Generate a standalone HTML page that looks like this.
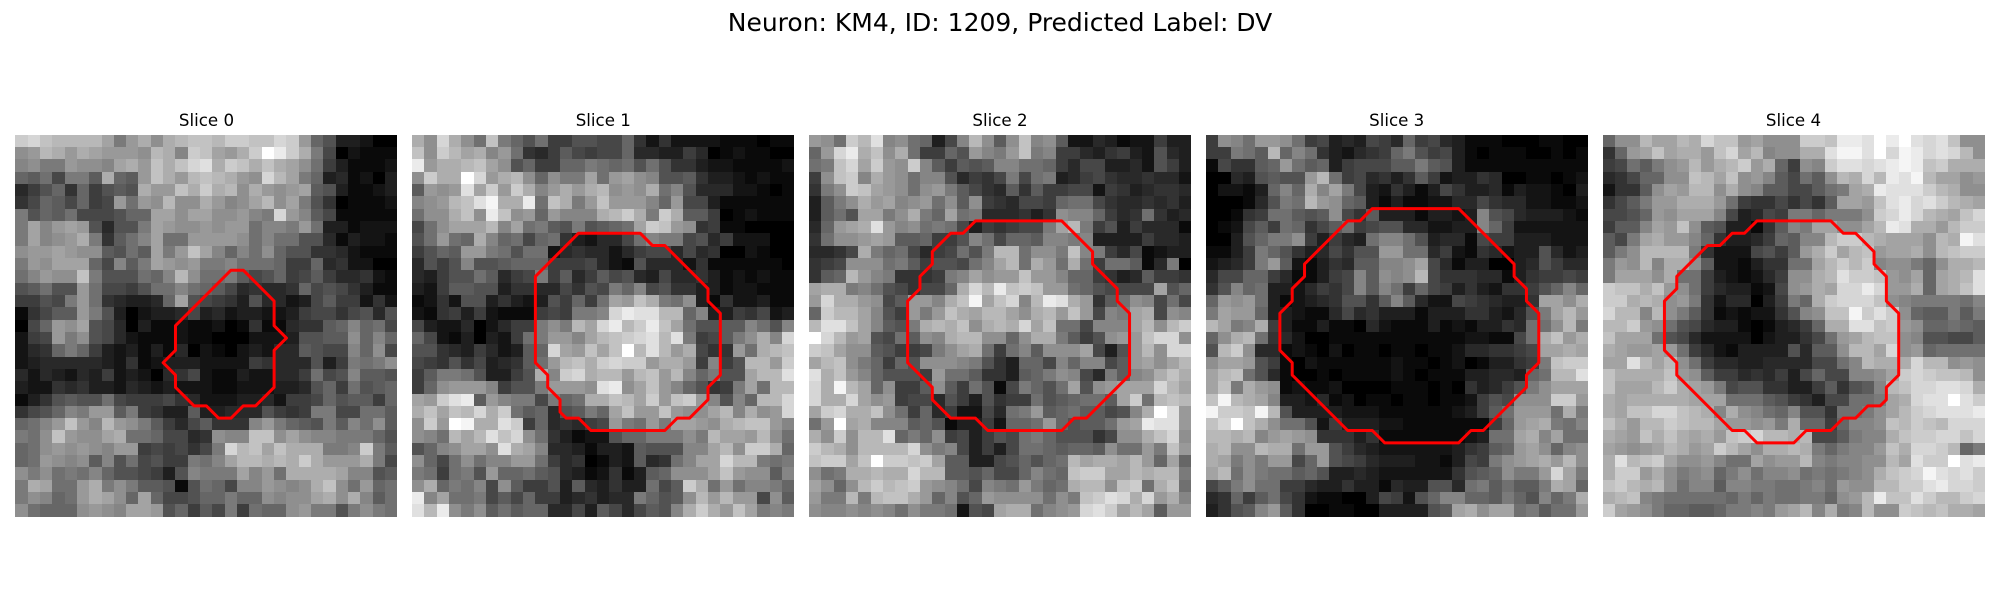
<!DOCTYPE html>
<html lang="en">
<head>
<meta charset="utf-8">
<title>Neuron: KM4, ID: 1209, Predicted Label: DV</title>
<style>
html,body{margin:0;padding:0;background:#fff;width:2000px;height:600px;overflow:hidden}
svg{display:block}
text{font-family:"DejaVu Sans","Liberation Sans",sans-serif;fill:#000;text-anchor:middle}
</style>
</head>
<body>
<svg id="figure" width="2000" height="600" viewBox="0 0 2000 600" xmlns="http://www.w3.org/2000/svg">
<text x="1000" y="31" font-size="25">Neuron: KM4, ID: 1209, Predicted Label: DV</text>
<g id="panel-0"><text x="206.5" y="126" font-size="16.67">Slice 0</text></g>
<g id="panel-1"><text x="603.3" y="126" font-size="16.67">Slice 1</text></g>
<g id="panel-2"><text x="1000" y="126" font-size="16.67">Slice 2</text></g>
<g id="panel-3"><text x="1396.7" y="126" font-size="16.67">Slice 3</text></g>
<g id="panel-4"><text x="1793.5" y="126" font-size="16.67">Slice 4</text></g>
</svg>
<script>
const slice0Pixels = [
[20,21,19,18,18,18,18,16,12,15,17,14,17,18,19,19,18,20,20,19,19,21,20,15,10,8,3,3,2,0,0],
[14,15,18,17,15,17,16,15,15,15,14,18,17,13,20,19,16,15,17,20,25,23,20,17,12,7,0,2,1,1,1],
[13,14,12,12,15,14,14,13,16,17,15,19,17,19,21,22,17,20,19,17,19,17,16,14,11,6,3,1,1,1,2],
[10,9,11,7,12,12,9,17,10,9,15,19,17,15,18,19,18,17,15,14,21,18,16,12,10,3,4,1,2,0,3],
[4,6,8,10,5,10,6,8,9,8,17,15,15,19,17,20,17,18,14,17,15,14,15,16,9,8,3,1,1,2,3],
[5,7,10,9,7,10,6,7,15,11,15,14,18,14,14,17,15,13,14,16,18,14,16,12,8,5,0,1,1,1,2],
[12,8,10,9,11,7,7,7,8,10,10,16,16,14,16,16,14,14,15,13,12,21,15,13,9,7,1,1,1,1,1],
[12,16,13,15,16,15,8,4,8,8,12,16,15,14,14,15,14,15,15,11,13,13,12,15,11,3,3,1,2,2,2],
[12,16,13,14,15,17,12,5,9,11,13,16,11,11,15,15,15,15,14,11,13,11,11,8,8,4,1,3,2,2,1],
[14,15,15,16,15,14,14,9,8,11,9,16,12,15,19,16,13,10,13,11,14,10,8,8,5,5,4,2,1,1,1],
[12,15,14,16,16,16,10,7,13,9,12,16,15,14,15,12,12,13,11,11,11,10,6,6,10,4,5,2,2,0,0],
[11,13,15,14,14,19,12,8,8,8,11,10,13,18,14,11,11,12,9,7,8,10,6,7,9,6,4,4,5,2,1],
[8,9,11,8,8,15,11,7,7,6,8,11,11,13,11,10,9,7,4,5,4,4,5,10,7,8,7,5,3,1,1],
[6,6,8,7,12,15,11,5,4,3,3,4,10,16,8,7,6,5,3,8,4,4,2,3,7,9,6,6,2,5,2],
[1,5,7,9,9,15,12,8,3,0,2,3,3,4,7,3,4,2,3,3,2,2,3,6,7,7,5,7,8,4,8],
[0,7,10,15,14,16,8,7,4,0,3,1,1,2,1,1,2,0,1,5,1,1,4,5,5,9,10,13,10,11,7],
[2,6,7,15,12,14,8,7,4,2,1,1,1,2,1,1,0,0,0,2,2,2,3,8,8,9,9,14,10,13,10],
[2,4,5,10,12,10,6,3,2,3,1,3,1,4,0,2,1,0,2,3,2,4,4,9,8,7,7,13,10,14,7],
[2,3,4,4,4,4,4,3,2,5,1,2,3,3,3,2,2,2,2,6,5,4,4,4,8,3,6,12,11,12,14],
[4,2,4,3,2,4,3,6,2,3,2,0,4,5,7,2,1,1,3,2,2,4,4,6,11,7,8,13,9,9,8],
[3,2,2,5,4,5,3,3,2,4,3,2,3,2,2,2,1,1,2,2,2,3,3,4,8,10,6,11,8,9,10],
[1,3,5,8,9,8,8,11,7,6,6,6,7,5,4,2,2,2,3,3,4,2,6,6,7,10,8,9,9,6,10],
[5,7,8,10,13,12,15,15,9,12,6,5,3,3,9,3,3,4,4,4,8,6,5,6,12,12,7,7,11,11,9],
[10,11,13,15,19,15,13,18,15,14,12,9,6,4,7,9,5,5,5,13,15,12,10,9,8,12,9,13,11,14,9],
[12,11,14,19,15,14,14,16,17,11,11,10,7,7,4,5,14,13,13,19,19,14,16,14,13,13,12,12,12,10,8],
[10,11,14,15,14,15,14,13,15,15,6,7,6,7,5,7,12,21,18,19,16,19,17,17,17,12,12,13,20,12,9],
[10,11,15,14,13,14,9,13,8,11,7,8,6,6,12,11,13,16,18,18,17,18,17,20,17,15,15,15,17,12,7],
[14,12,14,11,12,11,13,10,8,8,7,6,3,8,13,12,12,12,16,13,15,11,17,17,17,17,16,13,13,8,9],
[12,17,16,11,11,15,17,12,14,12,9,9,8,1,8,11,10,7,13,13,15,14,13,14,17,19,14,11,15,10,11],
[12,14,13,10,11,15,17,16,14,10,16,10,7,7,8,10,10,12,10,10,14,13,14,14,16,17,14,17,13,9,11],
[14,11,10,10,10,14,15,14,13,16,16,15,8,10,6,9,7,12,6,11,10,10,14,15,12,12,8,12,14,12,11]
];
const slice1Pixels = [
[17,14,21,17,14,11,19,12,10,8,11,6,6,8,8,7,7,10,5,2,5,2,2,2,2,1,1,1,0,1,1],
[19,14,20,18,16,17,13,15,11,5,4,6,9,7,6,7,7,10,4,4,3,3,6,4,0,1,2,1,1,0,0],
[23,15,17,17,18,19,16,14,8,10,6,6,10,10,12,11,10,11,8,11,8,5,5,3,2,2,1,1,1,1,2],
[14,20,17,17,25,21,15,17,18,14,10,14,12,12,16,11,15,16,14,13,8,8,9,5,3,3,2,1,2,1,1],
[9,15,14,15,22,16,20,15,20,17,13,15,17,15,17,18,14,15,14,17,11,13,8,4,4,4,2,2,1,0,1],
[13,14,15,18,19,22,24,17,17,23,11,19,17,12,15,19,15,15,15,13,10,15,7,7,3,1,1,1,1,1,1],
[11,14,14,17,19,14,23,19,14,15,10,15,13,13,13,17,18,20,17,12,20,17,9,9,6,0,1,2,1,1,1],
[7,11,14,16,16,16,18,13,16,11,12,9,8,12,8,9,10,11,16,20,19,15,14,5,6,1,1,0,0,0,0],
[8,11,15,11,10,17,13,10,11,7,10,11,5,3,2,4,4,7,11,13,12,12,7,8,4,6,2,2,2,0,0],
[6,8,10,9,15,15,12,11,8,11,11,2,4,5,4,4,2,4,6,7,7,4,7,4,5,0,0,2,1,0,0],
[4,8,6,8,13,8,8,9,10,10,10,6,6,6,7,4,2,1,8,4,4,4,2,5,1,1,1,1,1,1,0],
[4,3,6,8,8,11,9,4,6,7,12,6,9,4,6,9,7,8,4,3,7,4,4,5,3,1,2,1,2,1,1],
[3,2,6,9,9,8,8,3,5,5,4,4,7,5,8,7,12,10,13,7,8,5,5,3,3,1,2,2,1,1,1],
[1,2,5,2,8,8,3,5,3,2,3,8,6,10,6,11,16,15,19,17,12,11,14,3,1,5,2,2,3,1,1],
[2,1,5,6,3,6,2,1,1,1,6,7,6,12,12,13,21,23,22,22,18,18,10,13,3,3,6,5,7,2,3],
[7,3,2,2,4,0,2,4,6,6,12,14,12,18,16,21,23,18,20,23,19,16,11,8,8,9,9,13,11,8,13],
[10,7,2,1,3,0,3,2,6,11,12,15,15,13,16,18,19,20,21,22,18,22,12,6,7,9,12,14,17,13,21],
[8,8,5,4,3,6,4,2,3,9,10,21,16,15,19,16,19,25,18,22,18,15,17,7,5,5,15,11,17,18,19],
[7,6,5,8,5,7,3,4,5,9,11,15,18,19,17,20,21,20,20,15,17,17,15,6,13,6,8,18,18,15,20],
[6,9,12,12,11,8,3,3,6,8,17,13,20,21,17,18,18,15,18,19,15,18,13,10,12,8,8,16,18,18,22],
[6,10,14,15,15,15,13,6,8,8,12,15,15,15,14,22,23,14,16,19,15,13,10,8,5,6,12,16,11,18,18],
[16,15,20,22,23,9,15,13,12,12,7,12,10,11,17,17,19,18,16,20,15,19,20,15,13,8,13,10,18,18,21],
[17,19,16,19,18,21,17,20,11,9,10,4,8,9,12,10,16,19,15,15,19,15,14,14,16,18,13,17,14,15,21],
[14,20,15,25,24,17,17,22,20,6,10,4,5,4,6,7,15,12,11,15,12,16,16,15,14,17,18,19,19,15,13],
[14,13,11,18,16,18,22,19,21,14,11,5,3,1,2,2,8,10,10,12,12,12,14,12,18,16,16,15,18,14,11],
[8,10,13,14,16,16,14,22,17,16,13,4,4,3,1,3,3,2,9,8,8,8,13,13,16,18,14,20,20,17,10],
[14,10,7,11,14,11,13,13,15,15,11,6,4,5,0,1,3,2,9,4,5,11,13,16,16,21,18,18,12,11,12],
[12,11,6,11,12,8,15,10,10,11,9,8,4,3,1,2,5,1,3,9,10,14,14,14,16,19,15,14,14,9,13],
[14,17,10,12,11,13,7,14,9,6,6,8,3,9,4,3,5,3,3,11,7,9,20,17,11,15,11,13,13,12,10],
[23,13,16,11,11,12,7,9,7,10,6,6,3,4,5,3,4,4,12,10,8,9,14,18,15,18,15,15,7,14,9],
[22,18,23,14,12,14,9,11,9,10,10,4,4,7,3,9,7,4,7,9,8,13,17,20,17,15,19,16,12,13,12]
];
const slice2Pixels = [
[15,14,11,20,18,22,13,14,11,10,3,7,13,18,14,9,14,19,13,14,9,2,2,4,3,1,2,2,6,3,3],
[10,15,21,23,17,19,14,17,11,6,6,10,8,15,13,12,15,19,12,13,6,6,4,3,5,6,3,2,8,4,3],
[11,12,19,21,16,20,15,14,20,13,9,6,9,8,9,13,13,11,11,10,6,4,7,7,3,3,4,2,8,6,3],
[6,14,19,20,13,17,15,14,11,13,13,8,4,6,5,7,12,7,11,12,3,4,6,7,5,4,4,5,4,4,2],
[5,12,14,20,19,16,15,14,11,14,15,12,9,7,5,4,9,5,9,6,6,7,7,2,6,5,3,4,5,5,4],
[3,9,12,14,17,15,16,13,14,15,11,14,9,14,6,5,4,7,7,6,10,11,11,7,5,4,4,5,4,5,3],
[3,9,11,8,16,16,12,14,17,12,10,16,11,12,4,4,4,5,3,5,14,13,13,10,6,4,5,11,5,3,4],
[4,10,15,16,17,22,15,13,14,11,12,11,7,3,6,5,6,7,7,12,16,18,12,6,8,3,6,4,4,4,1],
[5,11,14,14,15,16,15,9,9,10,6,6,8,13,11,7,10,10,9,13,13,12,13,3,3,3,3,6,4,4,3],
[4,4,5,7,17,12,10,11,7,4,6,7,11,8,12,18,18,11,14,14,12,19,13,12,6,4,7,1,2,3,3],
[5,6,7,14,14,14,11,12,9,6,8,8,7,11,13,16,18,11,17,15,11,17,11,6,11,11,9,1,4,12,0],
[5,9,10,18,15,13,12,5,5,5,6,12,13,16,14,15,15,19,15,15,13,10,10,6,5,3,4,9,6,6,5],
[16,17,17,12,13,11,8,7,5,7,7,10,17,21,18,23,19,20,19,15,15,11,10,8,7,7,7,7,16,8,10],
[15,21,17,17,15,14,7,9,15,15,13,17,19,24,16,19,21,13,18,23,22,17,15,5,9,11,14,13,7,11,7],
[10,20,18,18,16,13,8,6,15,12,15,19,17,16,18,18,16,14,17,18,15,19,15,7,13,12,16,17,7,14,13],
[18,22,22,19,16,13,9,8,12,17,18,17,19,14,17,18,17,21,16,19,11,11,7,13,13,13,16,18,14,18,20],
[25,21,18,15,16,8,7,11,9,14,13,17,18,18,14,14,10,14,17,17,12,9,6,8,14,15,15,19,21,21,14],
[20,19,16,14,14,9,8,6,6,7,12,14,16,17,11,6,11,13,9,14,14,14,16,7,3,8,15,18,14,21,21],
[16,18,19,14,12,10,6,10,8,14,14,14,13,12,8,5,3,10,10,7,13,10,13,13,7,9,15,16,14,16,18],
[22,17,19,15,13,10,8,8,8,6,15,11,11,9,5,5,3,9,10,12,14,13,7,4,12,9,13,14,17,19,17],
[21,17,24,18,16,10,14,6,6,9,14,9,6,11,8,1,7,12,10,8,11,16,8,14,15,16,16,16,21,18,16],
[21,17,17,21,16,14,15,6,7,7,4,8,6,3,8,5,6,6,11,8,9,10,11,11,9,16,20,11,18,19,18],
[16,20,21,17,17,19,14,11,6,10,4,6,2,2,7,4,11,12,15,9,10,11,9,9,7,8,13,17,25,22,15],
[11,15,25,16,17,13,13,13,9,10,8,1,3,3,6,2,10,10,11,15,10,8,9,9,11,15,16,23,22,22,15],
[17,14,20,14,18,18,22,10,12,10,14,6,7,3,6,8,7,11,12,10,8,8,8,5,7,14,14,17,19,21,14],
[20,18,17,14,18,18,18,18,21,14,12,13,7,3,6,3,7,11,11,10,9,10,10,9,14,11,11,15,12,19,15],
[19,20,20,16,19,25,20,20,19,20,16,9,9,3,3,7,8,10,8,10,11,18,16,17,17,16,18,15,10,16,10],
[14,11,12,17,17,18,17,17,21,18,18,9,9,8,10,7,7,10,13,11,10,19,20,20,16,16,18,17,18,18,12],
[16,14,10,14,18,20,18,19,20,15,14,13,11,7,13,12,11,15,12,10,11,17,18,18,14,19,20,11,17,19,11],
[15,12,12,18,12,18,19,19,17,15,10,13,8,10,15,14,14,14,14,11,14,12,19,20,22,21,17,21,15,17,13],
[14,13,13,14,13,14,13,11,14,12,12,11,2,8,7,16,17,17,11,13,14,15,21,22,20,16,18,16,9,15,15]
];
const slice3Pixels = [
[6,14,13,11,15,15,14,11,6,7,3,4,3,7,6,4,10,6,7,4,3,1,1,1,0,0,0,1,1,0,0],
[6,6,12,11,9,18,10,13,11,5,3,2,4,5,6,10,12,8,6,7,3,1,0,1,1,1,0,0,1,0,1],
[1,7,5,5,9,10,15,11,9,10,3,6,7,7,7,9,9,12,9,8,3,1,1,1,1,1,1,1,1,1,1],
[0,0,4,3,8,9,8,8,15,18,11,6,7,4,5,3,5,9,6,2,3,3,5,4,0,0,1,1,0,1,2],
[0,2,2,1,3,10,13,10,17,13,16,12,7,3,2,5,3,1,3,7,5,3,3,4,1,3,2,2,1,0,3],
[0,0,0,1,4,8,12,11,18,15,14,10,9,3,1,3,1,1,2,2,4,4,7,5,4,4,2,2,1,1,2],
[0,0,1,5,6,11,11,9,8,9,14,7,5,9,3,3,3,1,3,3,2,3,13,8,7,4,3,3,3,2,1],
[0,1,2,7,9,6,11,10,5,7,9,11,6,7,8,8,4,4,2,2,3,3,13,10,6,2,2,2,2,2,2],
[0,0,3,8,10,12,12,14,6,3,6,4,3,11,13,13,11,8,3,4,4,1,7,6,6,3,3,3,2,2,2],
[1,1,3,6,12,10,8,5,3,4,7,5,8,8,15,15,11,11,4,6,2,1,5,4,2,3,3,8,4,2,3],
[2,3,4,6,12,15,9,2,1,3,5,4,9,9,13,13,14,16,7,4,1,3,3,0,0,3,4,8,6,4,4],
[4,7,7,10,10,6,4,1,1,3,6,7,13,9,14,13,14,18,7,5,5,5,4,4,1,3,5,6,6,7,6],
[5,8,13,10,11,3,3,2,4,6,5,7,13,9,13,11,6,10,7,6,3,5,3,2,5,5,6,8,10,13,10],
[10,15,14,15,11,3,1,2,3,4,5,8,8,5,9,13,9,4,2,2,7,6,5,4,3,3,5,16,16,14,17],
[12,16,15,15,10,3,3,2,1,1,4,7,4,5,3,3,3,1,3,3,3,5,5,3,2,4,8,12,16,18,15],
[18,16,12,13,17,6,3,1,1,3,1,1,0,4,2,1,1,1,3,1,2,1,3,3,5,4,11,11,14,18,12],
[10,14,17,18,11,5,4,2,0,0,1,1,1,1,1,1,1,1,1,1,1,2,2,1,1,7,11,17,19,15,17],
[8,18,20,14,4,4,1,2,1,0,2,0,1,1,0,1,1,0,1,1,2,4,4,5,5,6,7,16,16,17,16],
[14,16,16,15,8,6,1,0,2,1,1,1,1,1,1,2,1,1,0,1,2,0,1,3,3,5,6,12,19,20,20],
[16,18,19,11,8,4,1,0,0,1,0,1,1,1,1,2,1,0,1,1,1,3,3,4,4,3,10,11,18,18,22],
[16,19,12,17,15,14,1,2,1,1,2,0,0,0,0,1,1,1,0,1,0,5,3,4,6,8,12,14,16,16,16],
[19,24,18,17,16,13,3,3,2,4,1,2,0,1,1,0,1,1,0,1,1,2,6,8,7,14,14,14,20,20,15],
[24,20,20,19,24,18,8,3,3,3,3,2,2,2,1,1,1,1,1,1,2,3,6,9,11,15,15,15,11,17,12],
[19,21,25,19,17,14,11,11,8,2,6,3,3,3,2,2,1,1,1,1,1,1,1,6,10,15,16,17,12,11,13],
[18,18,17,18,13,15,16,15,14,5,5,5,3,5,1,1,1,1,1,1,1,2,3,11,11,16,17,13,16,11,11],
[17,18,14,14,18,17,17,11,15,15,8,6,4,3,2,2,2,2,2,2,3,5,6,9,10,15,16,14,10,13,14],
[17,16,12,14,12,15,15,7,10,15,8,7,6,4,3,3,3,2,2,1,3,7,6,12,14,15,16,17,15,18,14],
[16,18,11,14,12,11,11,9,10,8,3,3,4,3,2,2,2,2,2,2,5,8,9,10,14,12,12,15,21,16,12],
[7,9,12,14,11,11,6,6,4,3,3,5,3,3,1,4,3,3,8,8,4,11,12,9,11,9,9,12,17,16,10],
[4,5,10,6,9,11,7,5,2,1,1,0,0,3,7,6,2,8,10,13,13,10,10,9,12,10,8,13,10,12,17],
[3,5,8,9,13,15,9,5,0,0,1,1,0,0,3,3,3,3,8,9,16,17,14,16,16,11,12,9,11,11,15]
];
const slice4Pixels = [
[10,14,14,18,16,16,18,17,21,19,19,15,16,14,14,14,20,20,19,23,23,22,25,23,25,22,21,22,19,14,14],
[5,10,15,16,19,16,17,17,15,19,21,16,18,13,14,14,17,17,22,24,24,22,25,21,24,23,21,22,21,18,14],
[6,7,11,9,12,14,15,18,15,17,18,20,15,17,10,6,14,13,20,22,22,21,22,23,24,23,19,20,17,17,17],
[4,5,7,10,10,14,14,19,18,16,19,14,15,13,9,7,11,9,14,18,17,21,18,23,22,24,18,16,16,14,15],
[2,5,5,9,14,16,15,18,18,14,17,14,13,9,9,7,7,9,11,12,16,17,23,22,22,22,20,18,17,14,14],
[5,7,9,12,15,15,17,17,17,15,11,6,5,5,7,5,7,5,9,16,16,15,19,22,23,21,22,20,18,17,16],
[7,7,8,10,15,14,16,16,16,13,7,3,4,7,6,12,12,10,12,12,12,14,20,21,23,21,18,17,16,19,21],
[6,9,9,13,16,15,19,14,9,8,3,3,1,5,9,13,12,16,16,14,14,16,18,23,22,17,17,15,18,20,20],
[9,7,12,16,17,15,15,13,10,5,3,3,4,6,10,9,13,13,18,20,20,18,17,16,16,16,14,18,17,24,22],
[9,12,14,18,18,18,18,12,5,2,2,2,7,8,6,9,15,17,20,16,18,19,15,16,16,17,14,18,19,20,20],
[12,15,14,18,13,17,17,14,9,2,2,1,3,5,5,11,11,16,18,20,18,20,13,14,14,12,10,14,17,17,18],
[12,16,16,16,14,17,11,11,6,3,2,1,2,4,6,14,14,17,18,22,20,20,19,15,14,16,10,16,17,18,22],
[20,19,19,17,19,15,14,11,6,4,3,3,1,2,7,14,15,17,16,21,21,23,21,15,15,17,10,16,17,19,22],
[20,20,17,18,17,14,15,12,5,2,4,4,0,3,6,12,10,17,20,21,21,21,19,14,13,12,12,12,12,11,13],
[21,18,18,13,18,14,12,9,5,1,2,1,2,2,5,8,13,14,19,19,24,20,22,20,14,10,9,9,12,9,12],
[18,18,20,15,14,11,8,7,4,3,3,1,0,1,3,4,6,10,17,17,22,22,19,20,15,14,10,10,11,10,9],
[19,16,16,16,11,8,7,4,2,2,2,2,0,2,3,3,5,7,11,15,16,18,19,19,14,13,8,8,7,7,9],
[17,16,15,15,16,15,11,6,4,2,1,3,3,3,3,8,4,9,9,14,18,18,16,21,14,15,10,11,11,11,11],
[16,16,22,18,16,18,14,11,6,4,4,3,3,4,4,4,4,7,7,11,13,18,17,17,17,21,18,18,14,15,14],
[19,17,17,17,17,19,15,14,9,6,6,4,5,4,6,3,7,10,7,7,13,13,14,16,20,21,20,19,19,18,14],
[19,16,16,16,18,20,17,16,15,12,7,8,8,5,5,3,3,6,9,5,8,9,13,18,19,21,21,22,22,21,17],
[17,16,17,17,17,17,17,16,16,16,11,11,11,9,8,6,5,3,7,7,11,11,12,16,17,21,22,22,25,22,20],
[17,16,19,19,21,21,19,18,17,13,17,14,13,11,10,13,8,8,5,11,11,12,14,16,18,20,21,22,22,22,23],
[19,17,15,18,18,20,19,18,18,16,15,15,14,15,12,17,10,10,6,10,13,13,14,19,18,20,19,18,21,21,21],
[17,16,15,19,17,19,17,16,17,15,19,20,21,18,18,17,18,7,7,9,12,13,13,17,19,20,20,21,21,19,21],
[16,15,14,15,16,18,17,15,16,20,18,16,14,17,17,18,17,12,10,12,13,13,15,19,17,21,21,20,18,10,12],
[17,22,18,19,20,16,14,14,15,13,11,11,16,14,15,15,18,13,12,13,13,14,14,18,16,22,20,20,25,22,23],
[17,20,20,15,17,14,12,13,14,10,12,14,11,13,13,14,11,12,11,12,13,14,17,19,20,21,24,22,21,22,20],
[19,20,18,17,18,14,11,13,13,9,13,13,12,12,11,11,12,13,11,15,14,14,18,18,20,20,22,23,21,21,20],
[17,18,19,13,12,11,11,11,11,11,10,12,10,12,11,11,12,12,10,14,15,18,23,19,19,22,20,18,18,20,21],
[20,16,15,14,12,10,10,9,9,10,12,12,13,12,15,16,18,13,17,12,13,18,14,14,20,19,18,19,17,17,16]
];
const slice0Contour = [[17.5,11],[18.5,11],[21,13.5],[21,15.5],[22,16.5],[21,17.5],[21,20.5],[19.5,22],[18.5,22],[17.5,23],[16.5,23],[15.5,22],[14.5,22],[13,20.5],[13,19.5],[12,18.5],[13,17.5],[13,15.5]];
const slice1Contour = [[13.5,8],[18.5,8],[19.5,9],[20.5,9],[24,12.5],[24,13.5],[25,14.5],[25,19.5],[24,20.5],[24,21.5],[22.5,23],[21.5,23],[20.5,24],[14.5,24],[13.5,23],[12.5,23],[12,22.5],[12,21.5],[11,20.5],[11,19.5],[10,18.5],[10,11.5]];
const slice2Contour = [[13.5,7],[20.5,7],[23,9.5],[23,10.5],[25,12.5],[25,13.5],[26,14.5],[26,19.5],[22.5,23],[21.5,23],[20.5,24],[14.5,24],[13.5,23],[11.5,23],[10,21.5],[10,20.5],[8,18.5],[8,13.5],[9,12.5],[9,11.5],[10,10.5],[10,9.5],[11.5,8],[12.5,8]];
const slice3Contour = [[13.5,6],[20.5,6],[25,10.5],[25,11.5],[26,12.5],[26,13.5],[27,14.5],[27,18.5],[26,19.5],[26,20.5],[22.5,24],[21.5,24],[20.5,25],[14.5,25],[13.5,24],[11.5,24],[7,19.5],[7,18.5],[6,17.5],[6,14.5],[7,13.5],[7,12.5],[8,11.5],[8,10.5],[11.5,7],[12.5,7]];
const slice4Contour = [[12.5,7],[18.5,7],[19.5,8],[20.5,8],[22,9.5],[22,10.5],[23,11.5],[23,13.5],[24,14.5],[24,19.5],[23,20.5],[23,21.5],[22.5,22],[21.5,22],[20.5,23],[19.5,23],[18.5,24],[16.5,24],[15.5,25],[12.5,25],[11.5,24],[10.5,24],[6,19.5],[6,18.5],[5,17.5],[5,13.5],[6,12.5],[6,11.5],[8.5,9],[9.5,9],[10.5,8],[11.5,8]];

const pixelSets = [slice0Pixels, slice1Pixels, slice2Pixels, slice3Pixels, slice4Pixels];
const contourSets = [slice0Contour, slice1Contour, slice2Contour, slice3Contour, slice4Contour];

const SVG_NS = 'http://www.w3.org/2000/svg';
const GRID_SIZE = 31;
const PANEL_SIZE = 382.2;
const PANEL_TOP = 134.6;
const PANEL_LEFT = 15.2;
const PANEL_PITCH = 396.9;
const MAX_LEVEL = 25;

function scaleX(panelIndex, v) {
  return PANEL_LEFT + panelIndex * PANEL_PITCH + v * PANEL_SIZE / GRID_SIZE;
}
function scaleY(v) {
  return PANEL_TOP + v * PANEL_SIZE / GRID_SIZE;
}
function grayColor(level) {
  const g = Math.max(0, Math.min(255, Math.round(level / MAX_LEVEL * 255)));
  return 'rgb(' + g + ',' + g + ',' + g + ')';
}

pixelSets.forEach(function (rows, p) {
  const panel = document.getElementById('panel-' + p);
  const image = document.createElementNS(SVG_NS, 'g');
  
  
  image.setAttribute('shape-rendering', 'crispEdges');
  rows.forEach(function (row, r) {
    row.forEach(function (level, c) {
      const x0 = Math.round(scaleX(p, c));
      const x1 = Math.round(scaleX(p, c + 1));
      const y0 = Math.round(scaleY(r));
      const y1 = Math.round(scaleY(r + 1));
      const cell = document.createElementNS(SVG_NS, 'rect');
      
      
      cell.setAttribute('x', x0);
      cell.setAttribute('y', y0);
      cell.setAttribute('width', x1 - x0);
      cell.setAttribute('height', y1 - y0);
      cell.setAttribute('fill', grayColor(level));
      image.appendChild(cell);
    });
  });
  panel.appendChild(image);

  const outline = document.createElementNS(SVG_NS, 'polygon');
  
  
  outline.setAttribute('points', contourSets[p].map(function (pt) {
    return scaleX(p, pt[0]).toFixed(2) + ',' + scaleY(pt[1]).toFixed(2);
  }).join(' '));
  outline.setAttribute('fill', 'none');
  outline.setAttribute('stroke', '#ff0000');
  outline.setAttribute('stroke-width', '3');
  outline.setAttribute('stroke-linejoin', 'round');
  panel.appendChild(outline);
});
</script>
</body>
</html>
